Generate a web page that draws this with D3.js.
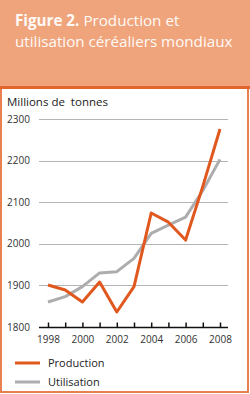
<!DOCTYPE html>
<html>
<head>
<meta charset="utf-8">
<script src="https://cdn.jsdelivr.net/npm/d3@7"></script>
<style>
  body { margin: 0; background: #fff; }
  svg { display: block; }
</style>
</head>
<body>
<svg id="chart" width="250" height="394"></svg>
<script>
// values (millions of tonnes)
const years = [1998, 1999, 2000, 2001, 2002, 2003, 2004, 2005, 2006, 2007, 2008];
const production = [1901, 1889, 1860, 1908, 1836, 1897, 2074, 2052, 2009, 2138, 2276];
const utilisation = [1860, 1873, 1897, 1930, 1933, 1965, 2025, 2045, 2064, 2128, 2203];
const yTicks = [1800, 1900, 2000, 2100, 2200, 2300];
const xLabels = [1998, 2000, 2002, 2004, 2006, 2008];

const orange = "#e0581e";
const grey = "#adadb0";

const svg = d3.select("#chart");
const font = "'Open Sans', sans-serif";

// header box
svg.append("rect").attr("x", 0).attr("y", 0).attr("width", 250).attr("height", 87)
    .attr("fill", "#efa47c");
svg.append("rect").attr("x", 1).attr("y", 87).attr("width", 247).attr("height", 305)
    .attr("fill", "#fff").attr("stroke", "#e8804f").attr("stroke-width", 2);
svg.append("line").attr("x1", 0).attr("x2", 250).attr("y1", 87.5).attr("y2", 87.5)
    .attr("stroke", "#e2652e").attr("stroke-width", 3);

// title: bold part and regular part as separate texts
const titleSize = 15.2;
const bold = svg.append("text")
    .attr("x", 15).attr("y", 26)
    .attr("fill", "#fffaf6")
    .style("font", `bold ${titleSize}px ${font}`)
    .text("Figure 2.");
const bw = bold.node().getComputedTextLength();
svg.append("text")
    .attr("x", 15 + bw + 4).attr("y", 26)
    .attr("fill", "#fffaf6")
    .style("font", `${titleSize}px ${font}`)
    .text("Production et");
svg.append("text")
    .attr("x", 15).attr("y", 47)
    .attr("fill", "#fffaf6")
    .style("font", `${titleSize}px ${font}`)
    .text("utilisation céréaliers mondiaux");

// chart
const x = d3.scaleLinear().domain([1998, 2008]).range([48, 220]);
const y = d3.scaleLinear().domain([1800, 2300]).range([327, 119]);

const g = svg.append("g").style("font-family", font);

g.append("text").attr("x", 7).attr("y", 106)
    .style("font-size", "11.5px").attr("fill", "#222")
    .attr("xml:space", "preserve")
    .text("Millions de  tonnes");

g.append("g").selectAll("line")
  .data(yTicks.filter(d => d > 1800))
  .join("line")
    .attr("x1", 39).attr("x2", 228)
    .attr("y1", d => Math.round(y(d)) + 0.5).attr("y2", d => Math.round(y(d)) + 0.5)
    .attr("stroke", "#b4b4b4").attr("stroke-width", 1);

g.append("g").selectAll("text")
  .data(yTicks)
  .join("text")
    .attr("x", 7).attr("y", d => y(d))
    .attr("dy", "0.35em")
    .style("font-size", "10px").attr("fill", "#333")
    .text(d => d);

// x axis with inward ticks
const xAxis = d3.axisBottom(x)
    .tickValues(years)
    .tickSize(-5)
    .tickFormat(d => xLabels.includes(d) ? d : "");
const ax = g.append("g").attr("transform", `translate(0,${Math.round(y(1800)) + 0.5})`).call(xAxis);
ax.select(".domain").attr("d", "M39,0H228").attr("stroke", "#111").attr("stroke-width", 1.5);
ax.selectAll(".tick line").attr("stroke", "#111").attr("stroke-width", 1.5);
ax.selectAll(".tick text")
    .attr("y", 8).attr("dy", "0.71em")
    .style("font-size", "10px").style("font-family", font).attr("fill", "#333");

const line = d3.line().x((d, i) => x(years[i])).y(d => y(d));

g.append("path").datum(utilisation)
    .attr("fill", "none").attr("stroke", grey).attr("stroke-width", 3)
    .attr("stroke-linejoin", "round").attr("d", line);
g.append("path").datum(production)
    .attr("fill", "none").attr("stroke", orange).attr("stroke-width", 3)
    .attr("stroke-linejoin", "round").attr("d", line);

// legend
const legend = [
  { name: "Production", color: orange, y: 363 },
  { name: "Utilisation", color: grey, y: 382 }
];
const lg = g.append("g").selectAll("g").data(legend).join("g");
lg.append("line")
    .attr("x1", 15).attr("x2", 40)
    .attr("y1", d => d.y).attr("y2", d => d.y)
    .attr("stroke", d => d.color).attr("stroke-width", 3);
lg.append("text")
    .attr("x", 48).attr("y", d => d.y).attr("dy", "0.35em")
    .style("font-size", "11px").attr("fill", "#222")
    .text(d => d.name);
</script>
</body>
</html>
